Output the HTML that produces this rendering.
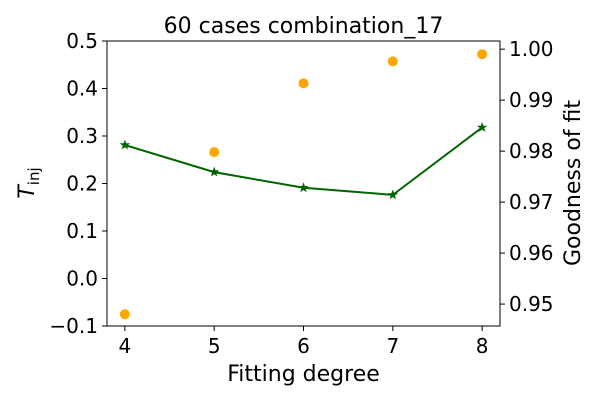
<!DOCTYPE html>
<html><head><meta charset="utf-8"><style>
body{margin:0;background:#fff;}
svg{font-family:"DejaVu Sans","Liberation Sans",sans-serif;}
</style></head><body>
<svg id="c" width="600" height="400" viewBox="0 0 600 400"></svg>
<script>
const degrees=[4,5,6,7,8];
const tinjValues=[0.281,0.224,0.191,0.176,0.318];
const fitValues=[0.948,0.9798,0.9933,0.9976,0.999];
const leftTicks=[-0.1,0.0,0.1,0.2,0.3,0.4,0.5];
const leftTickLabels=["\u22120.1","0.0","0.1","0.2","0.3","0.4","0.5"];
const rightTicks=[0.95,0.96,0.97,0.98,0.99,1.00];
const rightTickLabels=["0.95","0.96","0.97","0.98","0.99","1.00"];
const xTicks=[4,5,6,7,8];

const L=107,R=500,T=41,B=326;
const xs=v=>L+(v-3.8)/(8.2-3.8)*(R-L);
const yl=v=>B-(v-(-0.1))/(0.5-(-0.1))*(B-T);
const yr=v=>B-(v-0.9457)/(1.0016-0.9457)*(B-T);
const svg=document.getElementById('c');
const NS='http://www.w3.org/2000/svg';
function mk(tag,attrs,parent){const e=document.createElementNS(NS,tag);for(const k in attrs)e.setAttribute(k,attrs[k]);(parent||svg).appendChild(e);return e;}

let t=mk('text',{x:(L+R)/2,y:33,'font-size':22,'text-anchor':'middle'});t.textContent='60 cases combination_17';



xTicks.forEach((v,i)=>{
  const l=mk('line',{x1:xs(v),x2:xs(v),y1:B,y2:B+5,stroke:'#000'});
  
  
  const tx=mk('text',{x:xs(v),y:B+27,'font-size':20,'text-anchor':'middle'});tx.textContent=String(v);
  
  
});
leftTicks.forEach((v,i)=>{
  const l=mk('line',{x1:L-5,x2:L,y1:yl(v),y2:yl(v),stroke:'#000'});
  
  
  const tx=mk('text',{x:L-9,y:yl(v)+7,'font-size':20,'text-anchor':'end'});tx.textContent=leftTickLabels[i];
  
  
});
rightTicks.forEach((v,i)=>{
  const l=mk('line',{x1:R,x2:R+5,y1:yr(v),y2:yr(v),stroke:'#000'});
  
  
  const tx=mk('text',{x:R+9,y:yr(v)+7,'font-size':20,'text-anchor':'start'});tx.textContent=rightTickLabels[i];
  
  
});

const pts=degrees.map((d,i)=>xs(d)+','+yl(tinjValues[i])).join(' ');
const pl=mk('polyline',{points:pts,fill:'none',stroke:'#006400','stroke-width':2});


function star(cx,cy,r){let p=[];for(let k=0;k<10;k++){const a=-Math.PI/2+k*Math.PI/5;const rr=k%2?r*0.4:r;p.push((cx+rr*Math.cos(a)).toFixed(1)+','+(cy+rr*Math.sin(a)).toFixed(1));}return p.join(' ');}
degrees.forEach((d,i)=>{
  const s=mk('polygon',{points:star(xs(d),yl(tinjValues[i]),5.5),fill:'#006400'});
  
  
});
degrees.forEach((d,i)=>{
  const c=mk('circle',{cx:xs(d),cy:yr(fitValues[i]),r:5,fill:'#FFA500'});
  
  
});

const fr=mk('rect',{x:L,y:T,width:R-L,height:B-T,fill:'none',stroke:'#000','stroke-width':1});



const xl=mk('text',{x:(L+R)/2,y:381,'font-size':22,'text-anchor':'middle'});xl.textContent='Fitting degree';


const yt=mk('text',{x:0,y:0,'font-size':22,'text-anchor':'middle',transform:'translate(34,183) rotate(-90)'});
yt.innerHTML='<tspan font-style="italic">T</tspan><tspan font-size="15" dy="5">inj</tspan>';


const ry=mk('text',{x:0,y:0,'font-size':22,'text-anchor':'middle',transform:'translate(580,183) rotate(-90)'});ry.textContent='Goodness of fit';


</script>
</body></html>
